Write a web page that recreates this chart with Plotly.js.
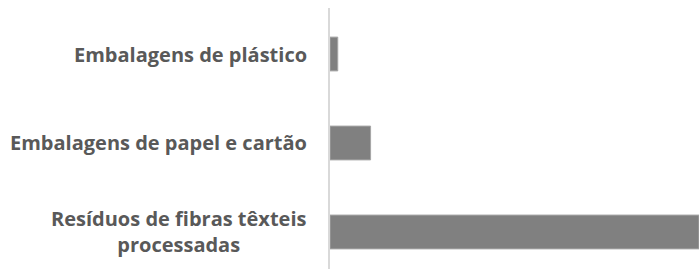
<!DOCTYPE html>
<html>
<head>
<meta charset="utf-8">
<script src="https://cdn.plot.ly/plotly-3.0.1.min.js"></script>
<style>
html,body{margin:0;padding:0;background:#fff;}
#chart{width:699px;height:269px;}
</style>
</head>
<body>
<div id="chart"></div>
<script>
// Categories, bottom to top
const categories = ["Resíduos de fibras têxteis<br>processadas", "Embalagens de papel e cartão", "Embalagens de plástico"];
const values = [100, 11, 2.1];

const trace = {
  type: 'bar',
  orientation: 'h',
  y: [0, 1, 2],
  x: values,
  marker: {color: '#808080', line: {color: '#a6a6a6', width: 1}},
  hoverinfo: 'none'
};

const annotations = categories.map((c, i) => ({
  xref: 'paper', yref: 'y', x: 0, y: i,
  xanchor: 'right', yanchor: 'middle', xshift: -21,
  align: 'center', showarrow: false, text: c,
  font: {family: '"Open Sans", sans-serif', size: 20, color: '#595959', weight: 'bold'}
}));

const layout = {
  width: 699, height: 269,
  margin: {l: 330, r: 0, t: 8, b: 0},
  paper_bgcolor: '#ffffff', plot_bgcolor: '#ffffff',
  showlegend: false,
  bargap: 0.62,
  xaxis: {range: [0, 100], visible: false, showgrid: false, zeroline: false},
  yaxis: {range: [-0.416, 2.517], showticklabels: false, showgrid: false, zeroline: false,
          showline: true, linecolor: '#d9d9d9', linewidth: 2, ticks: ''},
  annotations: annotations
};

Plotly.newPlot('chart', [trace], layout, {displayModeBar: false, staticPlot: true});
</script>
</body>
</html>
